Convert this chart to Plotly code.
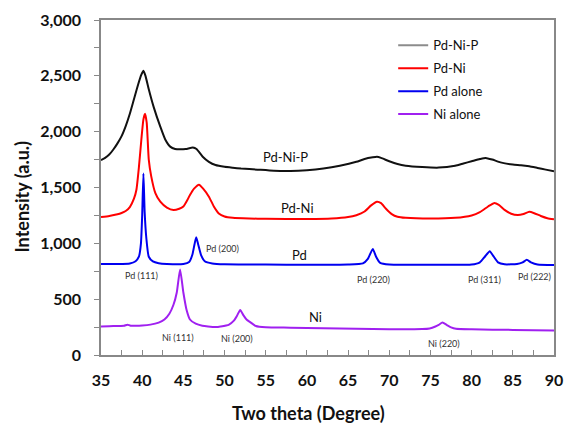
import plotly.graph_objects as go

# ---------------- data ----------------
pnp_x = [35, 35.5, 36, 36.5, 37, 37.5, 38, 38.5, 39, 39.5, 39.9, 40.15, 40.4, 40.8, 41.4, 42.2, 42.8,
         43.4, 44, 44.6, 45.3, 46.15, 46.6, 47.35, 48.1, 48.9, 50, 51, 52, 54, 56, 58, 60, 62, 64,
         66, 67, 68, 68.5, 69, 70, 71, 72, 74, 76, 78, 79, 80, 81, 81.7, 82.5, 83.5, 85, 86, 87,
         88, 89, 90]
pnp_y = [1745, 1765, 1795, 1840, 1895, 1960, 2050, 2160, 2290, 2420, 2510, 2545, 2500, 2380, 2220,
         2045, 1930, 1866, 1845, 1842, 1845, 1858, 1845, 1776, 1730, 1701, 1685, 1677, 1670, 1660,
         1650, 1648, 1655, 1670, 1695, 1730, 1755, 1770, 1775, 1765, 1735, 1710, 1695, 1683, 1678,
         1695, 1715, 1735, 1755, 1765, 1750, 1725, 1705, 1700, 1690, 1675, 1660, 1645]

pdni_x = [35, 36, 37, 37.5, 38, 38.5, 39, 39.3, 39.6, 39.9, 40.15, 40.35, 40.55, 40.8, 41.1, 41.6,
          42.2, 43, 43.8, 44.5, 45, 45.5, 45.8, 46.3, 46.9, 47.4, 48.1, 48.7, 49.3, 50, 51, 53, 55,
          60, 63, 65, 66, 67, 67.8, 68.5, 69, 69.6, 70.3, 71, 72, 75, 78, 80, 81, 82, 82.7, 83.3,
          84, 84.8, 85.6, 86.3, 87.0, 87.6, 88.4, 89.2, 90]
pdni_y = [1235, 1245, 1260, 1272, 1290, 1325, 1400, 1480, 1680, 1930, 2110, 2160, 2080, 1750, 1600,
          1450, 1373, 1320, 1298, 1310, 1330, 1390, 1433, 1490, 1525, 1490, 1418, 1330, 1268, 1240,
          1228, 1222, 1220, 1218, 1222, 1235, 1252, 1285, 1340, 1372, 1360, 1310, 1262, 1238, 1228,
          1222, 1228, 1250, 1280, 1330, 1360, 1345, 1300, 1265, 1253, 1262, 1282, 1270, 1245, 1225,
          1215]

pd_x = [35, 37, 38.5, 39.2, 39.6, 39.85, 40.0, 40.15, 40.3, 40.5, 40.8, 41.3, 42, 43, 45, 45.7,
        46.1, 46.35, 46.56, 46.8, 47.15, 47.6, 48.5, 50, 55, 60, 65, 66.8, 67.4, 68.0, 68.4, 68.9,
        70, 75, 80, 81, 81.6, 82.2, 82.6, 83.2, 84, 85.5, 86.2, 86.7, 87.2, 88, 90]
pd_y = [815, 815, 820, 840, 880, 1000, 1250, 1625, 1280, 1050, 880, 838, 822, 815, 815, 832, 900,
        990, 1055, 990, 895, 840, 820, 812, 810, 808, 810, 820, 860, 950, 880, 825, 810, 808, 810,
        830, 880, 930, 890, 830, 812, 815, 830, 852, 830, 810, 805]

ni_x = [35, 36, 37, 37.8, 38.2, 38.6, 40, 41, 42, 42.7, 43.3, 43.8, 44.2, 44.6, 45.0, 45.4, 45.8,
        46.5, 47.3, 48, 49, 49.5, 50.5, 51.1, 51.5, 51.9, 52.3, 52.7, 53.1, 53.8, 55, 58, 62, 66,
        70, 74, 74.9, 75.6, 76.0, 76.46, 77.0, 77.5, 78.1, 80, 85, 90]
ni_y = [255, 258, 260, 262, 272, 262, 265, 272, 290, 318, 370, 450, 560, 765, 560, 400, 318, 280,
        262, 255, 250, 255, 270, 305, 350, 403, 355, 315, 295, 260, 248, 245, 240, 235, 230, 232,
        238, 255, 270, 290, 268, 248, 235, 230, 225, 220]

series_names = ["Pd-Ni-P", "Pd-Ni", "Pd alone", "Ni alone"]
series_colors = ["#111111", "#FF0000", "#0000F0", "#A020F0"]
legend_colors = ["#8C8C8C", "#FF0000", "#0000F0", "#A020F0"]

curve_labels = ["Pd-Ni-P", "Pd-Ni", "Pd", "Ni"]
curve_label_x = [57.4, 58.8, 59.1, 61.1]
curve_label_y = [1773, 1316, 895, 340]

peak_labels = ["Pd (111)", "Pd (200)", "Ni (111)", "Ni (200)", "Pd (220)", "Pd (311)", "Pd (222)", "Ni (220)"]
peak_label_x = [39.9, 49.7, 44.4, 51.5, 68.1, 81.6, 87.6, 76.6]
peak_label_y = [716, 958, 161, 152, 680, 680, 707, 107]

x_range = [35, 90]
y_range = [0, 3000]

FONT = "Lato"

fig = go.Figure()
data = [(pnp_x, pnp_y), (pdni_x, pdni_y), (pd_x, pd_y), (ni_x, ni_y)]
for i, (xs, ys) in enumerate(data):
    fig.add_trace(go.Scatter(
        x=xs, y=ys, mode="lines", name=series_names[i],
        line=dict(color=series_colors[i], width=2, shape="spline", smoothing=0.5),
        showlegend=False, hoverinfo="x+y"))
# legend entries (Pd-Ni-P uses a grey legend key as in the original)
for i in range(4):
    fig.add_trace(go.Scatter(
        x=[None], y=[None], mode="lines", name=series_names[i],
        legendgroup=series_names[i],
        line=dict(color=legend_colors[i], width=2), showlegend=True))

for t, xx, yy in zip(curve_labels, curve_label_x, curve_label_y):
    fig.add_annotation(x=xx, y=yy, text=t, showarrow=False,
                       font=dict(family=FONT, size=13, color="#111111"))
for t, xx, yy in zip(peak_labels, peak_label_x, peak_label_y):
    fig.add_annotation(x=xx, y=yy, text=t, showarrow=False,
                       font=dict(family=FONT, size=9, color="#333333"))

# axis titles
fig.add_annotation(xref="paper", yref="paper", x=(313 - 101) / 462, y=-(413 - 355) / 335,
                   xanchor="center", yanchor="middle",
                   text="<b>Two theta (Degree)</b>", showarrow=False,
                   font=dict(family=FONT, size=18, color="#111111"))
fig.add_annotation(xref="paper", yref="paper", x=-(101 - 20) / 462, y=(355 - 197) / 335,
                   xanchor="center", yanchor="middle",
                   text="<b>Intensity (a.u.)</b>", showarrow=False, textangle=-90,
                   font=dict(family=FONT, size=18, color="#111111"))

fig.update_layout(
    width=573, height=425,
    margin=dict(l=101, r=10, t=20, b=70),
    paper_bgcolor="white", plot_bgcolor="white",
    font=dict(family=FONT, size=15, color="#111111"),
    legend=dict(x=0.645, y=0.969, xanchor="left", yanchor="top",
                bgcolor="rgba(0,0,0,0)", traceorder="grouped", tracegroupgap=3,
                font=dict(family=FONT, size=13, color="#111111"), itemwidth=30),
    xaxis=dict(range=x_range, dtick=5, tick0=35, ticks="inside", ticklen=5,
               tickcolor="#888888", showgrid=False, zeroline=False,
               showline=True, linecolor="#888888", linewidth=1.5, mirror=True,
               ticklabelstandoff=10,
               minor=dict(dtick=2.5, ticks="inside", ticklen=5, tickcolor="#888888"),
               tickfont=dict(family=FONT, size=16, color="#111111", weight="bold")),
    yaxis=dict(range=y_range, dtick=500, ticks="outside", ticklen=5,
               tickcolor="#888888", showgrid=False, zeroline=False, tickformat=",",
               showline=True, linecolor="#888888", linewidth=1.5, mirror=True,
               ticklabelstandoff=10,
               minor=dict(dtick=250, ticks="outside", ticklen=5, tickcolor="#888888"),
               tickfont=dict(family=FONT, size=16, color="#111111", weight="bold")),
)

fig.write_html("out.html")
